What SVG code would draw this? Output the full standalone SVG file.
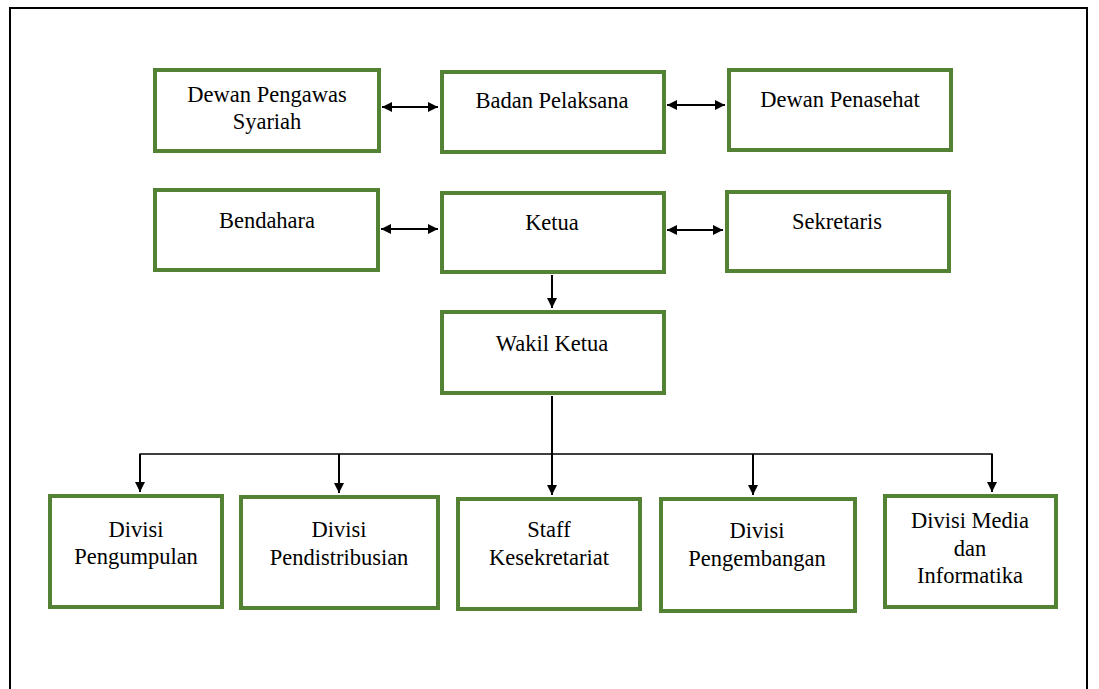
<svg xmlns="http://www.w3.org/2000/svg" width="1099" height="689" viewBox="0 0 1099 689">
<style>
.box{fill:#fff;stroke:#548235;stroke-width:4}
.t{font-family:'Liberation Serif',serif !important;font-size:22.5px;fill:#000;text-anchor:middle}
.c{stroke:#000;stroke-width:2;fill:none}
.c1{stroke:#000;stroke-width:1.3;fill:none}
</style>
<defs>
<marker id="ah" viewBox="0 0 10 10" refX="10" refY="5" markerWidth="10" markerHeight="10" markerUnits="userSpaceOnUse" orient="auto-start-reverse">
<path d="M0,0 L10,5 L0,10 z" fill="#000"/>
</marker>
</defs>
<rect x="0" y="0" width="1099" height="689" fill="#fff"/>
<path d="M10,689 V8 H1087 V689" fill="none" stroke="#000" stroke-width="2"/>

<g id="connectors">
<line class="c" x1="382" y1="107" x2="438" y2="107" marker-start="url(#ah)" marker-end="url(#ah)"/>
<line class="c" x1="667" y1="105" x2="725" y2="105" marker-start="url(#ah)" marker-end="url(#ah)"/>
<line class="c" x1="381" y1="229" x2="438" y2="229" marker-start="url(#ah)" marker-end="url(#ah)"/>
<line class="c" x1="667" y1="230" x2="723" y2="230" marker-start="url(#ah)" marker-end="url(#ah)"/>
<line class="c" x1="552" y1="275" x2="552" y2="308" marker-end="url(#ah)"/>
<line class="c" x1="552" y1="396" x2="552" y2="454"/>
<polyline class="c1" points="140,492 140,454 992,454 992,492"/>
<line class="c" x1="140" y1="454" x2="140" y2="492" marker-end="url(#ah)"/>
<line class="c" x1="339" y1="454" x2="339" y2="493" marker-end="url(#ah)"/>
<line class="c" x1="552" y1="454" x2="552" y2="495" marker-end="url(#ah)"/>
<line class="c" x1="753" y1="454" x2="753" y2="495" marker-end="url(#ah)"/>
<line class="c" x1="992" y1="454" x2="992" y2="492" marker-end="url(#ah)"/>
</g>

<g id="dewan-pengawas-syariah">
<rect class="box" x="155" y="70" width="224" height="81"/>
<text class="t" style="font-family:'Liberation Serif',serif" x="267" y="102">Dewan Pengawas</text>
<text class="t" style="font-family:'Liberation Serif',serif" x="267" y="129">Syariah</text>
</g>
<g id="badan-pelaksana">
<rect class="box" x="442" y="72" width="222" height="80"/>
<text class="t" style="font-family:'Liberation Serif',serif" x="552" y="108">Badan Pelaksana</text>
</g>
<g id="dewan-penasehat">
<rect class="box" x="729" y="70" width="222" height="80"/>
<text class="t" style="font-family:'Liberation Serif',serif" x="840" y="107">Dewan Penasehat</text>
</g>
<g id="bendahara">
<rect class="box" x="155" y="190" width="223" height="80"/>
<text class="t" style="font-family:'Liberation Serif',serif" x="267" y="228">Bendahara</text>
</g>
<g id="ketua">
<rect class="box" x="442" y="193" width="222" height="79"/>
<text class="t" style="font-family:'Liberation Serif',serif" x="552" y="230">Ketua</text>
</g>
<g id="sekretaris">
<rect class="box" x="727" y="192" width="222" height="79"/>
<text class="t" style="font-family:'Liberation Serif',serif" x="837" y="229">Sekretaris</text>
</g>
<g id="wakil-ketua">
<rect class="box" x="442" y="312" width="222" height="81"/>
<text class="t" style="font-family:'Liberation Serif',serif" x="552" y="351">Wakil Ketua</text>
</g>
<g id="divisi-pengumpulan">
<rect class="box" x="50" y="496" width="172" height="111"/>
<text class="t" style="font-family:'Liberation Serif',serif" x="136" y="537">Divisi</text>
<text class="t" style="font-family:'Liberation Serif',serif" x="136" y="564">Pengumpulan</text>
</g>
<g id="divisi-pendistribusian">
<rect class="box" x="241" y="497" width="197" height="111"/>
<text class="t" style="font-family:'Liberation Serif',serif" x="339" y="537">Divisi</text>
<text class="t" style="font-family:'Liberation Serif',serif" x="339" y="565">Pendistribusian</text>
</g>
<g id="staff-kesekretariat">
<rect class="box" x="458" y="499" width="182" height="110"/>
<text class="t" style="font-family:'Liberation Serif',serif" x="549" y="537">Staff</text>
<text class="t" style="font-family:'Liberation Serif',serif" x="549" y="565">Kesekretariat</text>
</g>
<g id="divisi-pengembangan">
<rect class="box" x="661" y="499" width="194" height="112"/>
<text class="t" style="font-family:'Liberation Serif',serif" x="757" y="538">Divisi</text>
<text class="t" style="font-family:'Liberation Serif',serif" x="757" y="566">Pengembangan</text>
</g>
<g id="divisi-media">
<rect class="box" x="885" y="496" width="171" height="111"/>
<text class="t" style="font-family:'Liberation Serif',serif" x="970" y="528">Divisi Media</text>
<text class="t" style="font-family:'Liberation Serif',serif" x="970" y="556">dan</text>
<text class="t" style="font-family:'Liberation Serif',serif" x="970" y="583">Informatika</text>
</g>
</svg>
